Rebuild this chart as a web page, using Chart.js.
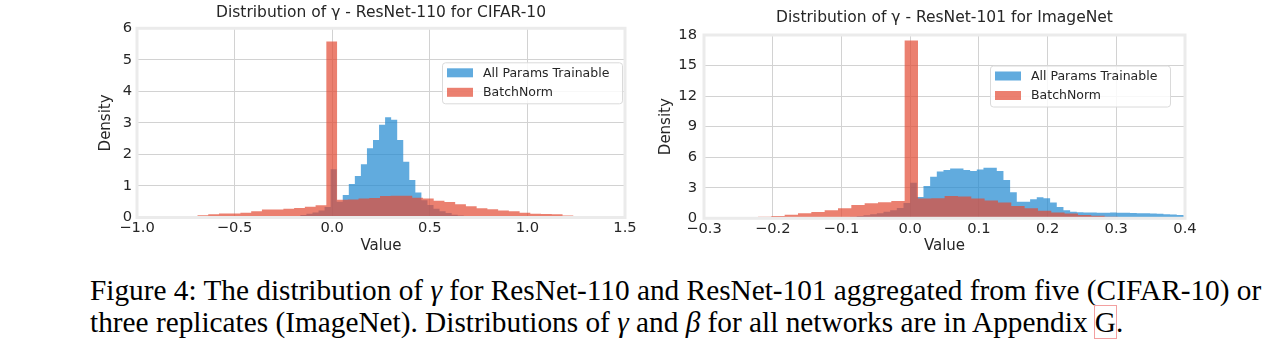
<!DOCTYPE html>
<html>
<head>
<meta charset="utf-8">
<script src="https://cdn.jsdelivr.net/npm/chart.js@4.4.0/dist/chart.umd.min.js"></script>
<style>
  body { margin: 0; background: #fff; width: 1280px; height: 347px; overflow: hidden; position: relative; }
  #cifar-chart { position: absolute; left: 80px; top: 0; }
  #imagenet-chart { position: absolute; left: 650px; top: 0; }
  .caption { position: absolute; left: 90px; top: 274px; font-family: "Liberation Serif", serif; font-size: 29.3px; line-height: 32px; color: #000; white-space: nowrap; }
  .ref { outline: 1px solid #f3a0a0; outline-offset: 0; }
</style>
</head>
<body>
<canvas id="cifar-chart" width="560" height="260"></canvas>
<canvas id="imagenet-chart" width="630" height="260"></canvas>
<div class="caption">Figure 4: The distribution of <i>γ</i> for ResNet-110 and ResNet-101 aggregated from five (CIFAR-10) or<br>three replicates (ImageNet). Distributions of <i>γ</i> and <i>β</i> for all networks are in Appendix <span class="ref">G</span>.</div>
<script>
// histogram data: first bin edge, bin width, density per bin
const seriesLabels = ["All Params Trainable", "BatchNorm"];

// ResNet-110 / CIFAR-10
const cifarXTicks = [-1.0, 1.5, 0.5];   // min, max, step
const cifarYTicks = [0, 6, 1];
const cifarAllStart = -0.225, cifarAllWidth = 0.031;
const cifarAll = [0.03, 0.05, 0.08, 0.12, 0.16, 0.22, 0.33, 1.53, 0.5, 0.71, 1.06, 1.32, 1.69, 2.2, 2.46, 2.94,
  3.18, 3.1, 2.46, 1.77, 1.19, 0.79, 0.55, 0.4, 0.28, 0.2, 0.14, 0.09, 0.06, 0.04, 0.02];
const cifarBnStart = -0.91, cifarBnWidth = 0.055;
const cifarBn = [0.02, 0.03, 0.04, 0.04, 0.07, 0.10, 0.13, 0.13, 0.15, 0.20, 0.25, 0.25, 0.28, 0.30, 0.34, 0.39,
  5.58, 0.56, 0.57, 0.60, 0.62, 0.68, 0.69, 0.69, 0.63, 0.60, 0.53, 0.49, 0.42, 0.36, 0.29, 0.26, 0.22, 0.20,
  0.15, 0.12, 0.11, 0.10, 0.06, 0.03];

// ResNet-101 / ImageNet
const imagenetXTicks = [-0.3, 0.4, 0.1];
const imagenetYTicks = [0, 18, 3];
const imagenetAllStart = -0.1261, imagenetAllWidth = 0.0097;
const imagenetAll = [0.03, 0.05, 0.08, 0.12, 0.16, 0.23, 0.3, 0.4, 0.5, 0.65, 0.8, 1.0, 1.5,
  3.5, 2.1, 3.17, 4.08, 4.6, 4.74, 4.9, 4.9, 4.74, 4.64, 4.8, 4.97, 4.97, 4.64, 3.76, 2.55, 1.63, 1.63, 1.86,
  2.06, 1.96, 1.54, 1.1, 0.8, 0.65, 0.6, 0.58, 0.56, 0.55, 0.55, 0.56, 0.55, 0.54, 0.53, 0.5, 0.5, 0.48, 0.45,
  0.4, 0.37, 0.33, 0.3];
const imagenetBnStart = -0.2796, imagenetBnWidth = 0.0194;
const imagenetBn = [0.02, 0.03, 0.07, 0.16, 0.23, 0.36, 0.49, 0.62, 0.78, 0.98, 1.31, 1.47, 1.57, 1.70,
  17.45, 1.95, 1.98, 2.2, 2.15, 1.95, 1.75, 1.55, 1.2, 0.98, 0.75, 0.56, 0.46, 0.33, 0.26, 0.16, 0.1, 0.05];

const BLUE = "rgba(30, 136, 208, 0.7)";
const RED = "rgba(226, 74, 51, 0.7)";
const TEXT = "#262626";

// turn bins into step points for a filled stepped line
function steps(start, width, values) {
  const pts = values.map((v, i) => ({ x: start + i * width, y: v }));
  pts.push({ x: start + values.length * width, y: 0 });
  return pts;
}

function fmtTick(v) {
  return (v < -1e-9 ? "\u2212" : "") + Math.abs(v).toFixed(1);
}

// light frame around the plot area
const framePlugin = {
  id: "frame",
  afterDatasetsDraw(chart) {
    const { ctx, chartArea: a } = chart;
    ctx.save();
    ctx.strokeStyle = "#ebebeb";
    ctx.lineWidth = 3;
    ctx.strokeRect(a.left, a.top, a.right - a.left, a.bottom - a.top);
    ctx.restore();
  }
};

// legend box inside the plot, like matplotlib
const boxLegendPlugin = {
  id: "boxLegend",
  afterDraw(chart, args, opts) {
    const { ctx, chartArea: a } = chart;
    const w = 180, h = 41;
    const x = a.right - opts.right - w;
    const y = a.top + opts.top;
    ctx.save();
    ctx.fillStyle = "rgba(255,255,255,0.85)";
    ctx.strokeStyle = "#dadada";
    ctx.lineWidth = 1;
    ctx.beginPath();
    ctx.roundRect(x + 0.5, y + 0.5, w, h, 3);
    ctx.fill();
    ctx.stroke();
    const order = [1, 0]; // blue first, then red
    order.forEach((di, row) => {
      const ds = chart.data.datasets[di];
      const cy = y + 10.5 + row * 19.5;
      ctx.fillStyle = ds.backgroundColor;
      ctx.fillRect(x + 5, cy - 4.5, 26, 9);
      ctx.fillStyle = TEXT;
      ctx.font = "12.5px 'DejaVu Sans'";
      ctx.textBaseline = "middle";
      ctx.fillText(ds.label, x + 41, cy + 0.5);
    });
    ctx.restore();
  }
};

function makeHistChart(id, cfg) {
  const ctx = document.getElementById(id).getContext("2d");
  const font = (size) => ({ family: "'DejaVu Sans'", size: size, weight: "normal" });
  return new Chart(ctx, {
    type: "line",
    data: {
      datasets: [{
        label: seriesLabels[1],
        data: steps(cfg.bnStart, cfg.bnWidth, cfg.bn),
        stepped: true,
        fill: "origin",
        backgroundColor: RED,
        borderWidth: 0,
        pointRadius: 0,
        order: 0
      }, {
        label: seriesLabels[0],
        data: steps(cfg.allStart, cfg.allWidth, cfg.all),
        stepped: true,
        fill: "origin",
        backgroundColor: BLUE,
        borderWidth: 0,
        pointRadius: 0,
        order: 1
      }]
    },
    options: {
      responsive: false,
      animation: false,
      devicePixelRatio: 1,
      layout: { padding: { left: 0, right: cfg.padRight, top: 0, bottom: 0 } },
      plugins: {
        legend: { display: false },
        tooltip: { enabled: false },
        title: {
          display: true,
          text: cfg.title,
          fullSize: false,
          color: TEXT,
          font: font(15.5),
          padding: cfg.titlePad
        },
        boxLegend: cfg.legend
      },
      scales: {
        x: {
          type: "linear",
          min: cfg.xTicks[0],
          max: cfg.xTicks[1],
          grid: { color: "#d2d2d2", drawTicks: false },
          border: { display: false },
          ticks: { stepSize: cfg.xTicks[2], color: TEXT, font: font(14.7), padding: 2, maxRotation: 0, autoSkip: false, callback: fmtTick },
          title: { display: true, text: "Value", color: TEXT, font: font(15), padding: { top: 0, bottom: 4.5 } },
          afterFit: (s) => { s.height = cfg.xHeight; }
        },
        y: {
          min: cfg.yTicks[0],
          max: cfg.yTicks[1],
          grid: { color: "#d2d2d2", drawTicks: false },
          border: { display: false },
          ticks: { stepSize: cfg.yTicks[2], color: TEXT, font: font(14.7), padding: cfg.yPad },
          title: { display: true, text: "Density", color: TEXT, font: font(15), padding: { top: cfg.densityPad, bottom: 0 } },
          afterFit: (s) => { s.width = cfg.yWidth; }
        }
      }
    },
    plugins: [framePlugin, boxLegendPlugin]
  });
}

// Chart.js - ResNet-110 on CIFAR-10
const cifarChart = makeHistChart("cifar-chart", {
  title: "Distribution of \u03b3 - ResNet-110 for CIFAR-10",
  all: cifarAll, allStart: cifarAllStart, allWidth: cifarAllWidth,
  bn: cifarBn, bnStart: cifarBnStart, bnWidth: cifarBnWidth,
  xTicks: cifarXTicks, yTicks: cifarYTicks,
  padRight: 15, yWidth: 57, xHeight: 42.5, yPad: 5, densityPad: 17.5,
  titlePad: { top: 3.2, bottom: 6.5 },
  legend: { right: 3, top: 34 }
});

// Chart.js - ResNet-101 on ImageNet
const imagenetChart = makeHistChart("imagenet-chart", {
  title: "Distribution of \u03b3 - ResNet-101 for ImageNet",
  all: imagenetAll, allStart: imagenetAllStart, allWidth: imagenetAllWidth,
  bn: imagenetBn, bnStart: imagenetBnStart, bnWidth: imagenetBnWidth,
  xTicks: imagenetXTicks, yTicks: imagenetYTicks,
  padRight: 95, yWidth: 54, xHeight: 41.7, yPad: 7, densityPad: 7,
  titlePad: { top: 8.2, bottom: 8.2 },
  legend: { right: 15, top: 30.5 }
});
</script>
</body>
</html>
